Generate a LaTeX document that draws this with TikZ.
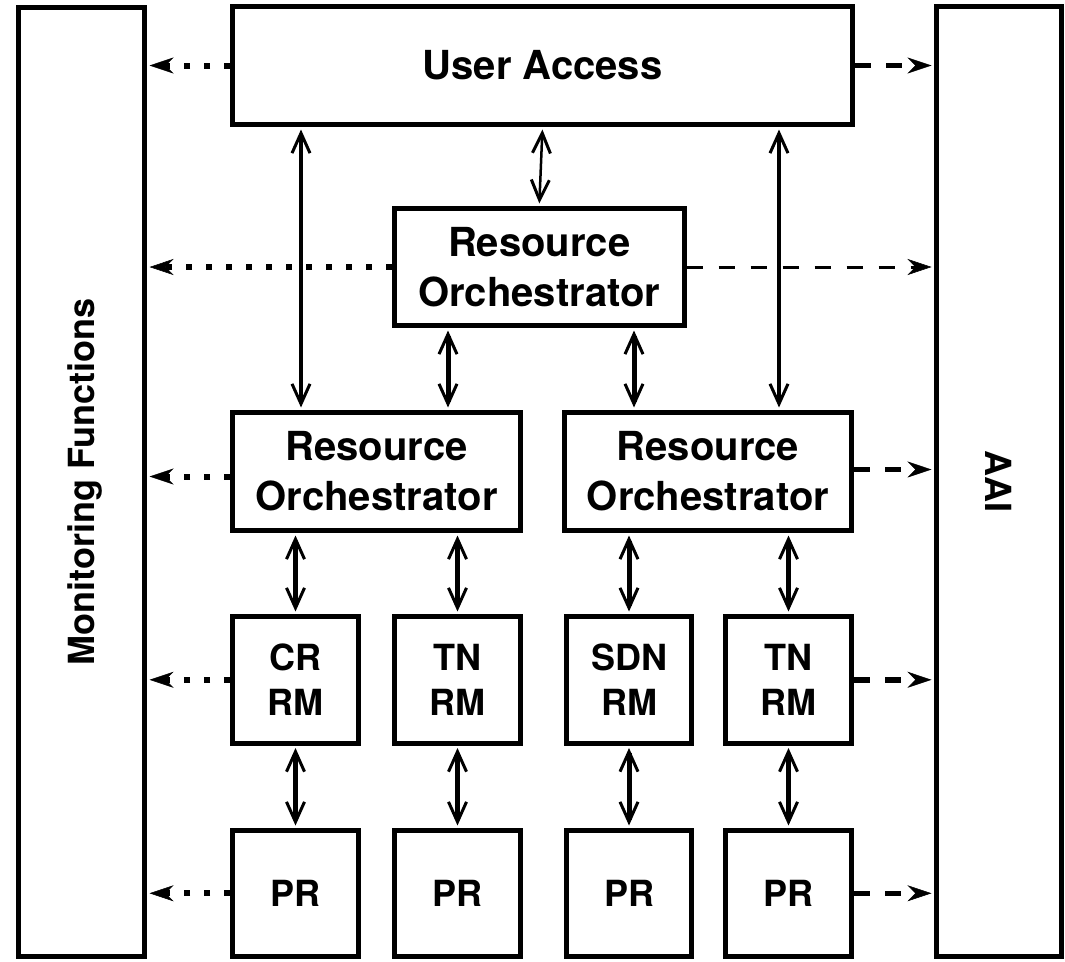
\documentclass[tikz,border=0pt]{standalone}
\usepackage{fontspec}
\setmainfont{TeX Gyre Heros}
\usetikzlibrary{arrows.meta}
\begin{document}
\begin{tikzpicture}[x=1pt,y=-1pt,
  box/.style={draw, rectangle, line width=5pt, inner sep=0pt, align=center,
    font=\bfseries\fontsize{40}{50}\selectfont},
  rmbox/.style={box, font=\bfseries\fontsize{36}{45}\selectfont},
  sidelabel/.style={inner sep=0pt, text height=26pt, text depth=0pt,
    font=\bfseries\fontsize{36}{42}\selectfont},
  >={Straight Barb[length=20pt,width=18pt,line width'=3pt]},
  bithick/.style={<->, line width=5pt, shorten >=2.5pt, shorten <=2.5pt},
  bimid/.style={<->, line width=3.5pt, shorten >=2.5pt, shorten <=2.5pt},
  bithin/.style={<->, line width=2.5pt, shorten >=2.5pt, shorten <=2.5pt},
  monarrow/.style={-{Stealth[length=24pt,width=16pt,line width'=0.5pt]},
    line width=6pt, dash pattern=on 6pt off 14pt, shorten >=2.5pt},
  aaiarrow/.style={-{Stealth[length=24pt,width=16pt,line width'=0.5pt]},
    line width=5.5pt, dash pattern=on 16pt off 15pt, shorten >=2.5pt},
  aaithin/.style={aaiarrow, line width=3pt, dash pattern=on 16pt off 16pt}]

\useasboundingbox (0,0) rectangle (1065,961);

% side columns
\node[box, minimum width=126pt, minimum height=948.5pt] (mon) at (81.5,481.75) {};
\node[sidelabel, rotate=90] (monlabel) at (mon.center) {Monitoring Functions};
\node[box, minimum width=124.5pt, minimum height=949.5pt] (aai) at (998.75,481.25) {};
\node[sidelabel, rotate=-90] (aailabel) at (aai.center) {AAI};

% access and orchestration layers
\node[box, minimum width=620pt, minimum height=118pt] (ua) at (542.5,65.5) {User Access};
\node[box, minimum width=289.5pt, minimum height=117pt] (ro0) at (539.25,267) {Resource\\Orchestrator};
\node[box, minimum width=288pt, minimum height=118pt] (ro1) at (376.5,471.5) {Resource\\Orchestrator};
\node[box, minimum width=287pt, minimum height=118pt] (ro2) at (708,471.5) {Resource\\Orchestrator};

% resource managers
\node[rmbox, minimum width=126pt, minimum height=126.5pt] (rm1) at (295.5,679.75) {CR\\RM};
\node[rmbox, minimum width=126pt, minimum height=126.5pt] (rm2) at (457.5,679.75) {TN\\RM};
\node[rmbox, minimum width=125pt, minimum height=126.5pt] (rm3) at (629,679.75) {SDN\\RM};
\node[rmbox, minimum width=126pt, minimum height=126.5pt] (rm4) at (788.5,679.75) {TN\\RM};

% physical resources
\node[rmbox, minimum width=126pt, minimum height=125.5pt] (pr1) at (295.5,893.25) {PR};
\node[rmbox, minimum width=126pt, minimum height=125.5pt] (pr2) at (457.5,893.25) {PR};
\node[rmbox, minimum width=125pt, minimum height=125.5pt] (pr3) at (629,893.25) {PR};
\node[rmbox, minimum width=126pt, minimum height=125.5pt] (pr4) at (788.5,893.25) {PR};

% attachment points for vertical links
\coordinate (l1) at ([xshift=-75.5pt]ro1.north);
\coordinate (l2) at ([xshift=71.5pt]ro1.north);
\coordinate (r1) at ([xshift=-74pt]ro2.north);
\coordinate (r2) at ([xshift=71pt]ro2.north);
\coordinate (m1) at ([yshift=-5pt]ro1.west);
\coordinate (a1) at ([yshift=2pt]ro2.east);

% vertical links
\draw[bimid] (l1) -- (l1 |- ua.south);
\draw[bimid] (r2) -- (r2 |- ua.south);
\draw[bithin] (ua.south) -- (ro0.north);
\draw[bithick] (l2) -- (l2 |- ro0.south);
\draw[bithick] (r1) -- (r1 |- ro0.south);
\draw[bithick] (ro1.south -| rm1.north) -- (rm1.north);
\draw[bithick] (ro1.south -| rm2.north) -- (rm2.north);
\draw[bithick] (ro2.south -| rm3.north) -- (rm3.north);
\draw[bithick] (ro2.south -| rm4.north) -- (rm4.north);
\draw[bithick] (rm1.south) -- (pr1.north);
\draw[bithick] (rm2.south) -- (pr2.north);
\draw[bithick] (rm3.south) -- (pr3.north);
\draw[bithick] (rm4.south) -- (pr4.north);

% monitoring feeds
\draw[monarrow] (ua.west) -- (ua.west -| mon.east);
\draw[monarrow] (ro0.west) -- (ro0.west -| mon.east);
\draw[monarrow] (m1) -- (m1 -| mon.east);
\draw[monarrow] (rm1.west) -- (rm1.west -| mon.east);
\draw[monarrow] (pr1.west) -- (pr1.west -| mon.east);

% AAI links
\draw[aaiarrow] (ua.east) -- (ua.east -| aai.west);
\draw[aaithin] (ro0.east) -- (ro0.east -| aai.west);
\draw[aaiarrow] (a1) -- (a1 -| aai.west);
\draw[aaiarrow] (rm4.east) -- (rm4.east -| aai.west);
\draw[aaiarrow] (pr4.east) -- (pr4.east -| aai.west);
\end{tikzpicture}
\end{document}
